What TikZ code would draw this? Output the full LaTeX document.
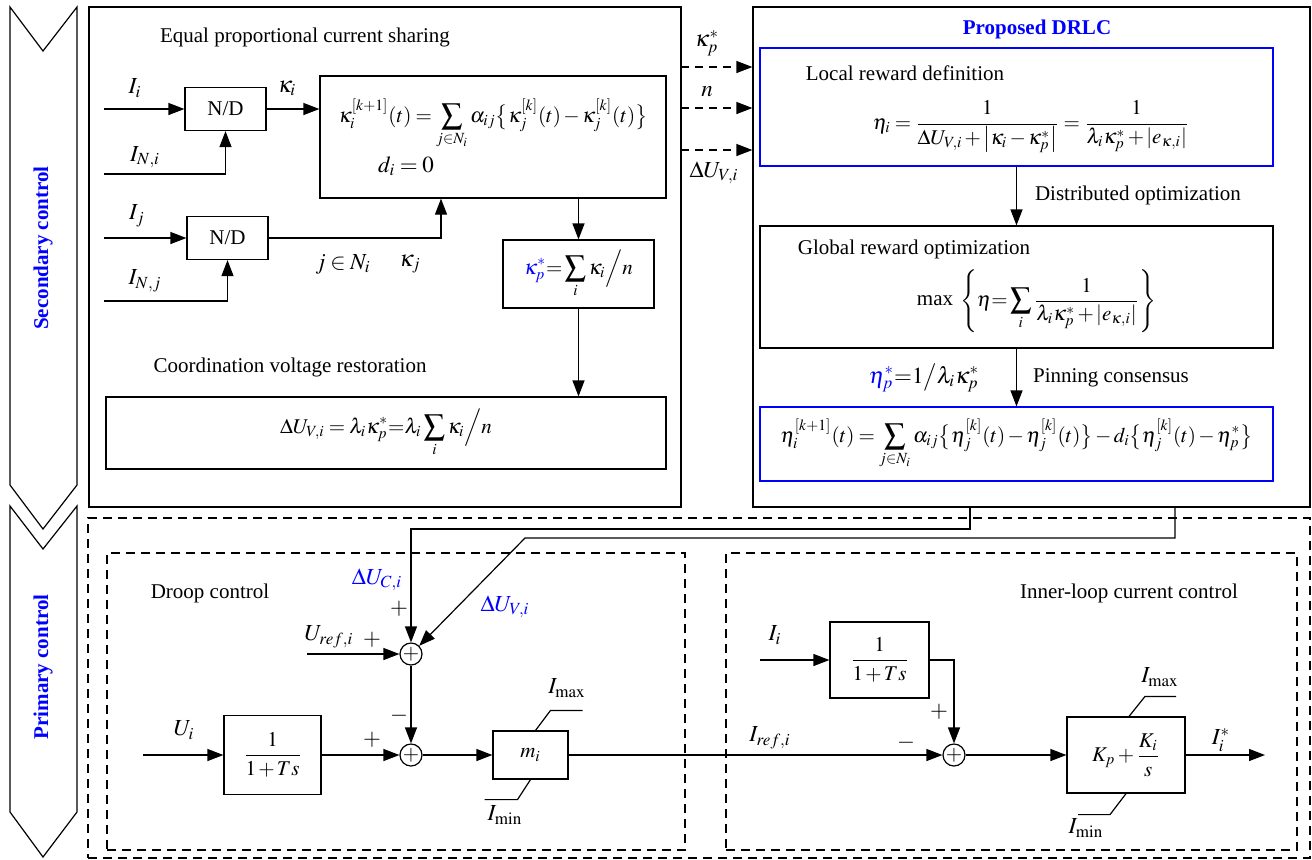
\documentclass[tikz,border=0pt]{standalone}
\usepackage{amsmath}
\usepackage{mathptmx}
\usepackage{fontspec}
\setmainfont{Liberation Serif}
\usepackage{tikz}
\usetikzlibrary{arrows.meta,calc}

\begin{document}
\medmuskip=2mu plus 1mu minus 2mu
\thickmuskip=3.5mu plus 2mu
\begin{tikzpicture}[
  x=0.5pt, y=-0.5pt,
  font=\fontsize{10.5}{12.6}\selectfont,
  line width=0.6pt,
  blk/.style={rectangle, draw, inner sep=0pt, align=center},
  bblk/.style={blk, draw=blue},
  dblk/.style={blk, dash pattern=on 4.5pt off 3pt},
  sumc/.style={circle, draw, inner sep=0pt, minimum size=11pt},
  sig/.style={font=\fontsize{11.5}{13.8}\selectfont, inner sep=1pt},
  arr/.style={-{Triangle[length=8pt,width=6pt]}},
  darr/.style={arr, dash pattern=on 4pt off 3pt},
  ttl/.style={font=\fontsize{10.5}{12.6}\bfseries, text=blue}
]
  \useasboundingbox (0,0) rectangle (1312,859);

  % chevrons on the left
  \draw (10,7) -- (43,51) -- (77,7) -- (77,485) -- (43,529) -- (10,485) -- cycle;
  \draw (10,506) -- (43,549) -- (77,506) -- (77,812) -- (43,857) -- (10,812) -- cycle;
  \node[ttl, rotate=90] (sectxt) at (43,248) {Secondary control};
  \node[ttl, rotate=90] (pritxt) at (43,667) {Primary control};

  % secondary control: current sharing
  \node[blk, minimum width=296pt, minimum height=250pt] (sec) at (385,257) {};
  \node (eqtxt) at (305,37) {Equal proportional current sharing};
  \node[blk, minimum width=40.5pt, minimum height=21.5pt] (nd1) at (225.5,109) {N/D};
  \node[blk, minimum width=40.5pt, minimum height=21.5pt] (nd2) at (227.5,238) {N/D};
  \node[blk, minimum width=173pt, minimum height=61pt] (cons) at (493,137) {};
  \node (consf) at (493,124)
    {$\displaystyle\kappa_i^{[k+1]}(t)=\sum_{j\in N_i}\alpha_{ij}\bigl\{\kappa_j^{[k]}(t)-\kappa_j^{[k]}(t)\bigr\}$};
  \node[sig] (dzero) at (406,166) {$d_i=0$};
  \node[blk, minimum width=75.5pt, minimum height=34pt] (kap) at (578.5,274)
    {$\displaystyle\textcolor{blue}{\kappa_p^*}{=}\sum_i\kappa_i\Big/n$};
  \node (coordtxt) at (290,367) {Coordination voltage restoration};
  \node[blk, minimum width=280pt, minimum height=36pt] (dub) at (386,433)
    {$\displaystyle\Delta U_{V,i}=\lambda_i\kappa_p^*{=}\lambda_i\sum_i\kappa_i\Big/n$};

  \coordinate (ii) at (104,109);
  \coordinate (ini) at (104,174);
  \coordinate (ij) at (104,238);
  \coordinate (inj) at (104,301);
  \coordinate (kj) at (441,238);
  \draw[arr] (ii) -- (ii -| nd1.west);
  \draw[arr] (ini) -| (nd1.south);
  \draw[arr] (nd1.east) -- (nd1.east -| cons.west);
  \draw[arr] (ij) -- (ij -| nd2.west);
  \draw[arr] (inj) -| (nd2.south);
  \draw[arr] (nd2.east) -- (kj) -- (kj |- cons.south);
  \draw[arr] (cons.south -| kap) -- (kap.north);
  \draw[arr] (kap.south) -- (kap.south |- dub.north);
  \node[sig] (lii) at (135,88) {$I_i$};
  \node[sig] (lini) at (145,157) {$I_{N,i}$};
  \node[sig] (lij) at (137,216) {$I_j$};
  \node[sig] (linj) at (145,281) {$I_{N,j}$};
  \node[sig] (lki) at (287,88) {$\kappa_i$};
  \node[sig] (ljn) at (343,264) {$j\in N_i$};
  \node[sig] (lkj) at (410,264) {$\kappa_j$};

  % proposed DRLC
  \node[blk, minimum width=278.5pt, minimum height=250pt] (drlc) at (1031.5,257) {};
  \node[ttl] (drlctxt) at (1037,29) {Proposed DRLC};
  \node[bblk, minimum width=256.5pt, minimum height=59pt] (loc) at (1016.5,107) {};
  \node (loctxt) at (905,73) {Local reward definition};
  \node (locf) at (1031,127)
    {$\eta_i=\dfrac{1}{\Delta U_{V,i}+\left|\kappa_i-\kappa_p^*\right|}=\dfrac{1}{\lambda_i\kappa_p^*+\left|e_{\kappa,i}\right|}$};
  \node[blk, minimum width=256.5pt, minimum height=61pt] (glob) at (1016.5,287) {};
  \node (globtxt) at (914,249) {Global reward optimization};
  \node (maxtxt) at (935,301) {max};
  \node (globf) at (1058,301)
    {$\displaystyle\left\{\eta{=}\sum_i\frac{1}{\lambda_i\kappa_p^*+\left|e_{\kappa,i}\right|}\right\}$};
  \node[bblk, minimum width=256.5pt, minimum height=37pt] (pin) at (1016.5,444)
    {$\displaystyle\eta_i^{[k+1]}(t)=\sum_{j\in N_i}\alpha_{ij}\bigl\{\eta_j^{[k]}(t)-\eta_j^{[k]}(t)\bigr\}-d_i\bigl\{\eta_j^{[k]}(t)-\eta_p^*\bigr\}$};
  \draw[arr] (loc.south) -- (glob.north);
  \draw[arr] (glob.south) -- (pin.north);
  \node (disttxt) at (1138,195) {Distributed optimization};
  \node[sig] (etap) at (924,378) {$\textcolor{blue}{\eta_p^*}{=}1\big/\lambda_i\kappa_p^*$};
  \node (pintxt) at (1111,378) {Pinning consensus};

  % signals passed to the DRLC
  \coordinate (s1) at (681,67);
  \coordinate (s2) at (681,108);
  \coordinate (s3) at (681,150);
  \draw[darr] (s1) -- (s1 -| drlc.west);
  \draw[darr] (s2) -- (s2 -| drlc.west);
  \draw[darr] (s3) -- (s3 -| drlc.west);
  \node[sig] (ls1) at (707,43) {$\kappa_p^*$};
  \node[sig] (ls2) at (707,92) {$n$};
  \node[sig] (ls3) at (714,173) {$\Delta U_{V,i}$};

  % primary control
  \node[dblk, minimum width=611pt, minimum height=170pt] (pri) at (699,688) {};
  \node[dblk, minimum width=289pt, minimum height=148.5pt] (droop) at (396,701.5) {};
  \node[dblk, minimum width=285.5pt, minimum height=148.5pt] (inner) at (1011.5,701.5) {};
  \node (drooptxt) at (210,593) {Droop control};
  \node (innertxt) at (1129,593) {Inner-loop current control};

  \node[sumc] (sum1) at (411,654) {$+$};
  \node[sumc] (sum2) at (411,755) {$+$};
  \node[blk, minimum width=48.5pt, minimum height=39.5pt] (lpf1) at (272.5,755) {$\dfrac{1}{1+Ts}$};
  \node[blk, minimum width=37.5pt, minimum height=24pt] (mbox) at (530.5,755) {$m_i$};
  \node[sumc] (sum3) at (954,755) {$+$};
  \node[blk, minimum width=49.5pt, minimum height=38pt] (lpf2) at (879.5,660) {$\dfrac{1}{1+Ts}$};
  \node[blk, minimum width=59pt, minimum height=38pt] (pi) at (1126,755) {$K_p+\dfrac{K_i}{s}$};

  \coordinate (uref) at (307,654);
  \coordinate (ui) at (143,755);
  \coordinate (ii2) at (760,660);
  \coordinate (iout) at (1265,755);
  \draw[arr] (uref) -- (sum1.west);
  \draw[arr] (sum1.south) -- (sum2.north);
  \draw[arr] (ui) -- (lpf1.west);
  \draw[arr] (lpf1.east) -- (sum2.west);
  \draw[arr] (sum2.east) -- (mbox.west);
  \draw[arr] (mbox.east) -- (sum3.west);
  \draw[arr] (ii2) -- (lpf2.west);
  \draw[arr] (lpf2.east) -| (sum3.north);
  \draw[arr] (sum3.east) -- (pi.west);
  \draw[arr] (pi.east) -- (iout);
  % limiters
  \draw ($(mbox.north)+(5,0)$) -- ++(15,-20) -- ++(32,0);
  \draw (mbox.south) -- ++(-13,20) -- ++(-33,0);
  \draw ($(pi.north)+(3,0)$) -- ++(16,-20) -- ++(31,0);
  \draw (pi.south) -- ++(-16,21) -- ++(-32,0);

  % corrections from the DRLC
  \coordinate (c1) at (970,529);
  \coordinate (c2) at (1175,538);
  \coordinate (c2b) at (525,538);
  \draw[arr] (drlc.south -| c1) -- (c1) -| (sum1.north);
  \draw[arr] (drlc.south -| c2) -- (c2) -- (c2b) -- (sum1.north east);

  \node[sig, text=blue] (ldc) at (377,580) {$\Delta U_{C,i}$};
  \node[sig, text=blue] (ldv) at (505,607) {$\Delta U_{V,i}$};
  \node[sig] (p1) at (399,609) {$+$};
  \node[sig] (lur) at (329,637) {$U_{ref,i}$};
  \node[sig] (p2) at (372,640) {$+$};
  \node[sig] (m1) at (399,716) {$-$};
  \node[sig] (p3) at (372,740) {$+$};
  \node[sig] (lui) at (184,730) {$U_i$};
  \node[sig] (lmax1) at (567,688) {$I_{\max}$};
  \node[sig] (lmin1) at (505,815) {$I_{\min}$};
  \node[sig] (lii2) at (775,635) {$I_i$};
  \node[sig] (p4) at (939,712) {$+$};
  \node[sig] (liref) at (770,738) {$I_{ref,i}$};
  \node[sig] (m2) at (906,743) {$-$};
  \node[sig] (lmax2) at (1160,677) {$I_{\max}$};
  \node[sig] (lmin2) at (1086,828) {$I_{\min}$};
  \node[sig] (lout) at (1221,740) {$I_i^*$};
\end{tikzpicture}
\end{document}
